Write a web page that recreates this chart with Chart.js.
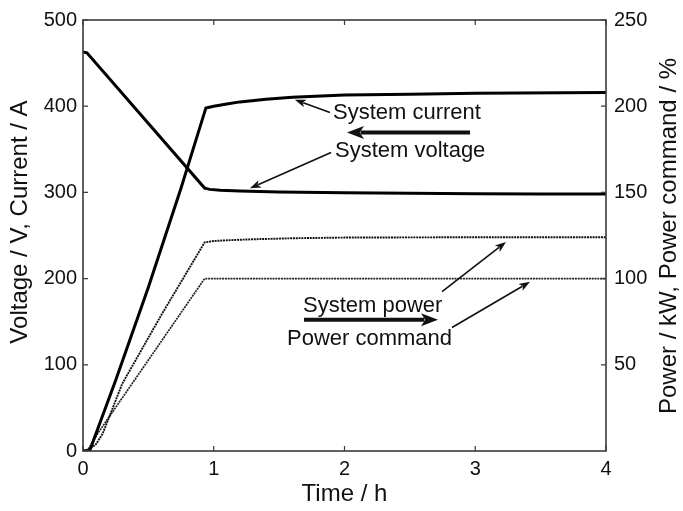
<!DOCTYPE html>
<html>
<head>
<meta charset="utf-8">
<script src="https://cdn.jsdelivr.net/npm/chart.js@4/dist/chart.umd.min.js"></script>
<style>
  html, body { margin: 0; padding: 0; background: #fff; }
  #wrap { width: 683px; height: 511px; }
</style>
</head>
<body>
<div id="wrap"><canvas id="myChart" width="683" height="511"></canvas></div>
<script>
// time axis (h) and series
const voltageTime = [0, 0.03, 0.93, 0.97, 1.05, 1.2, 1.5, 2, 2.5, 3, 3.5, 4];
const voltage     = [463, 462, 305, 303.5, 302.5, 301.5, 300.5, 299.5, 299, 298.5, 298, 298];

const currentTime = [0, 0.05, 0.25, 0.5, 0.75, 0.94, 1.0, 1.1, 1.2, 1.4, 1.6, 2, 2.5, 3, 4];
const current     = [0, 0, 82, 190, 305, 398, 400, 402.5, 405, 408, 410.5, 413, 414, 415, 416];

// right axis (kW / %)
const powerTime = [0, 0.05, 0.1, 0.15, 0.3, 0.6, 0.93, 1.0, 1.15, 1.3, 1.6, 2, 3, 4];
const power     = [0, 1, 4, 10, 39, 79, 121, 121.8, 122.4, 122.8, 123.4, 123.8, 124, 124];

const commandTime = [0, 0.04, 0.12, 0.93, 1.5, 2, 3, 4];
const command     = [0, 1, 11, 100, 100, 100, 100, 100];

const xTicks = [0, 1, 2, 3, 4];
const leftTicks = [0, 100, 200, 300, 400, 500];
const rightTicks = [50, 100, 150, 200, 250];

// labels with arrows, positions in data units of x / left axis
const notes = [
  { text: 'System current', x: 1.912, y: 392.6 },
  { text: 'System voltage', x: 1.927, y: 347.6 },
  { text: 'System power', x: 1.683, y: 168.6 },
  { text: 'Power command', x: 1.560, y: 130.5 }
];
const arrows = [
  { x0: 1.889, y0: 392.6, x1: 1.621, y1: 407.6, big: false },
  { x0: 1.897, y0: 346.4, x1: 1.277, y1: 304.8, big: false },
  { x0: 2.746, y0: 184.8, x1: 3.235, y1: 242.5, big: false },
  { x0: 2.822, y0: 143.2, x1: 3.419, y1: 196.3, big: false },
  { x0: 2.960, y0: 369.5, x1: 2.019, y1: 369.5, big: true },
  { x0: 1.690, y0: 152.4, x1: 2.715, y1: 152.4, big: true }
];

const FONT = '"Liberation Sans", Arial, sans-serif';

function pts(xs, ys) {
  return xs.map((x, i) => ({ x: x, y: ys[i] }));
}

function arrow(ctx, xa, ya, xb, yb, big) {
  const ang = Math.atan2(yb - ya, xb - xa);
  const len = big ? 17 : 11;
  const hw = big ? 6.5 : 4;
  ctx.lineWidth = big ? 4 : 1.6;
  ctx.beginPath();
  ctx.moveTo(xa, ya);
  ctx.lineTo(xb - Math.cos(ang) * len * 0.8, yb - Math.sin(ang) * len * 0.8);
  ctx.stroke();
  ctx.beginPath();
  ctx.moveTo(xb, yb);
  ctx.lineTo(xb - Math.cos(ang) * len - Math.sin(ang) * hw, yb - Math.sin(ang) * len + Math.cos(ang) * hw);
  ctx.lineTo(xb - Math.cos(ang) * len * 0.75, yb - Math.sin(ang) * len * 0.75);
  ctx.lineTo(xb - Math.cos(ang) * len + Math.sin(ang) * hw, yb - Math.sin(ang) * len - Math.cos(ang) * hw);
  ctx.closePath();
  ctx.fill();
}

const overlay = {
  id: 'overlay',
  afterDraw(chart) {
    const ctx = chart.ctx;
    const a = chart.chartArea;
    const sx = chart.scales.x, sy = chart.scales.y, sr = chart.scales.y2;
    ctx.save();
    // box
    ctx.strokeStyle = '#3a3a3a';
    ctx.lineWidth = 1.6;
    ctx.strokeRect(a.left, a.top, a.right - a.left, a.bottom - a.top);
    // inward ticks
    ctx.lineWidth = 1.2;
    ctx.beginPath();
    xTicks.forEach(v => {
      const px = sx.getPixelForValue(v);
      ctx.moveTo(px, a.bottom); ctx.lineTo(px, a.bottom - 5);
      ctx.moveTo(px, a.top); ctx.lineTo(px, a.top + 5);
    });
    leftTicks.forEach(v => {
      const py = sy.getPixelForValue(v);
      ctx.moveTo(a.left, py); ctx.lineTo(a.left + 5, py);
    });
    rightTicks.forEach(v => {
      const py = sr.getPixelForValue(v);
      ctx.moveTo(a.right, py); ctx.lineTo(a.right - 5, py);
    });
    ctx.stroke();

    // annotations
    ctx.fillStyle = '#111';
    ctx.strokeStyle = '#111';
    ctx.font = '22px ' + FONT;
    ctx.textBaseline = 'middle';
    ctx.textAlign = 'left';
    notes.forEach(n => {
      ctx.fillText(n.text, sx.getPixelForValue(n.x), sy.getPixelForValue(n.y));
    });
    arrows.forEach(r => {
      arrow(ctx, sx.getPixelForValue(r.x0), sy.getPixelForValue(r.y0),
        sx.getPixelForValue(r.x1), sy.getPixelForValue(r.y1), r.big);
    });

    // axis titles
    ctx.font = '24px ' + FONT;
    ctx.textAlign = 'center';
    ctx.fillText('Time / h', (a.left + a.right) / 2, 494);
    ctx.save();
    ctx.translate(20, 222);
    ctx.rotate(-Math.PI / 2);
    ctx.fillText('Voltage / V, Current / A', 0, 0);
    ctx.restore();
    ctx.translate(669, 236);
    ctx.rotate(-Math.PI / 2);
    ctx.fillText('Power / kW, Power command / %', 0, 0);
    ctx.restore();
  }
};

const tickFont = { family: FONT, size: 20 };

const config = {
  type: 'line',
  data: {
    datasets: [
      { label: 'System voltage', data: pts(voltageTime, voltage), yAxisID: 'y',
        borderColor: '#000', borderWidth: 3, pointRadius: 0, tension: 0 },
      { label: 'System current', data: pts(currentTime, current), yAxisID: 'y',
        borderColor: '#000', borderWidth: 3, pointRadius: 0, tension: 0 },
      { label: 'System power', data: pts(powerTime, power), yAxisID: 'y2',
        borderColor: '#111', borderWidth: 1.9, borderDash: [2, 0.8], pointRadius: 0, tension: 0 },
      { label: 'Power command', data: pts(commandTime, command), yAxisID: 'y2',
        borderColor: '#222', borderWidth: 1.7, borderDash: [2, 0.8], pointRadius: 0, tension: 0 }
    ]
  },
  options: {
    responsive: false,
    animation: false,
    layout: { padding: { top: 18, left: 0, right: 0, bottom: 0 } },
    plugins: { legend: { display: false }, tooltip: { enabled: false } },
    scales: {
      x: {
        type: 'linear', min: 0, max: 4,
        ticks: { stepSize: 1, color: '#111', font: tickFont, padding: 6, maxRotation: 0 },
        grid: { display: false, drawTicks: false },
        border: { display: false },
        afterFit: s => { s.height = 60; }
      },
      y: {
        position: 'left', min: 0, max: 500,
        ticks: { stepSize: 100, color: '#111', font: tickFont, padding: 6 },
        grid: { display: false, drawTicks: false },
        border: { display: false },
        afterFit: s => { s.width = 83; }
      },
      y2: {
        position: 'right', min: 0, max: 250,
        ticks: { stepSize: 50, color: '#111', font: tickFont, padding: 8,
          callback: v => (v === 0 ? '' : v) },
        grid: { display: false, drawTicks: false },
        border: { display: false },
        afterFit: s => { s.width = 77; }
      }
    }
  },
  plugins: [overlay]
};

const myChart = new Chart(document.getElementById('myChart'), config);
</script>
</body>
</html>
